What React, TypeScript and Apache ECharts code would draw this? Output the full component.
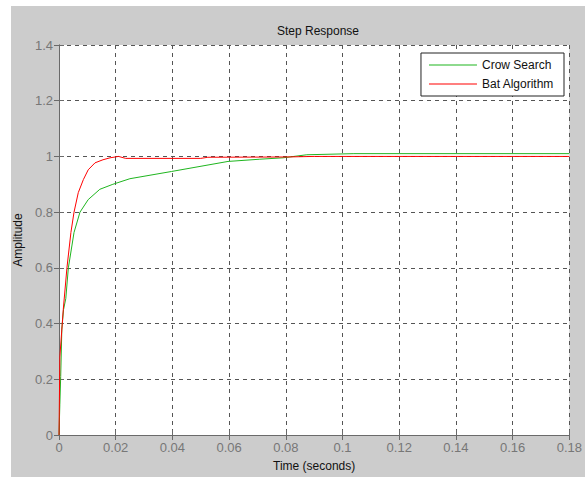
import React, { useEffect, useRef } from "react";
import * as echarts from "echarts";

const crowT = [0, 0.0003, 0.0006, 0.001, 0.0016, 0.0024, 0.0033, 0.0053, 0.0074, 0.0103, 0.0144, 0.019, 0.025, 0.0397, 0.0596, 0.0708, 0.079, 0.0874, 0.104, 0.18];
const crowV = [0, 0.11, 0.21, 0.38, 0.45, 0.49, 0.6, 0.727, 0.8, 0.845, 0.882, 0.9, 0.92, 0.946, 0.982, 0.99, 0.995, 1.006, 1.01, 1.01];
const batT = [0, 0.0003, 0.0015, 0.0028, 0.0042, 0.0053, 0.0068, 0.0086, 0.0103, 0.0127, 0.0155, 0.018, 0.021, 0.0235, 0.05, 0.0525, 0.08, 0.09, 0.18];
const batV = [0, 0.28, 0.45, 0.6, 0.727, 0.8, 0.87, 0.917, 0.952, 0.977, 0.988, 0.995, 1.0, 0.993, 0.993, 0.997, 0.998, 1.0, 1.0];

const seriesNames = ["Crow Search", "Bat Algorithm"];
const xTicks = { min: 0, max: 0.18, interval: 0.02 };
const yTicks = { min: 0, max: 1.4, interval: 0.2 };

const fmt = (v: number) => parseFloat(v.toFixed(2)).toString();

export default function App() {
  const ref = useRef<HTMLDivElement>(null);
  useEffect(() => {
    const chart = echarts.init(ref.current!, null, { renderer: "svg" });
    const font = "Arial, 'Liberation Sans', sans-serif";
    const axisLine = { show: true, lineStyle: { color: "#6a6a6a", width: 1 } };
    const split = { show: true, lineStyle: { color: "#555", type: [4, 4] as any, width: 1 } };
    chart.setOption({
      animation: false,
      backgroundColor: "transparent",
      graphic: [
        { type: "rect", left: 11, top: 6, shape: { width: 574, height: 471 }, style: { fill: "#cccccc" }, z: -10 },
      ],
      title: {
        text: "Step Response",
        left: 313,
        top: 20,
        textAlign: "center",
        textStyle: { fontFamily: font, fontSize: 12, fontWeight: "normal", color: "#111" },
      },
      legend: {
        orient: "vertical",
        right: 21,
        top: 53,
        data: seriesNames,
        backgroundColor: "#fff",
        borderColor: "#222",
        borderWidth: 1,
        padding: [6, 10, 6, 8],
        itemGap: 7,
        itemWidth: 48,
        itemHeight: 14,
        icon: "path://M0,7L48,7L48,8L0,8Z",
        textStyle: { fontFamily: font, fontSize: 12, color: "#111" },
      },
      grid: { left: 59, top: 45, right: 15, bottom: 41, backgroundColor: "#fff", show: true, borderWidth: 0 },
      xAxis: [
        {
          type: "value",
          ...xTicks,
          name: "Time (seconds)",
          nameLocation: "middle",
          nameGap: 25,
          nameTextStyle: { fontFamily: font, fontSize: 12, color: "#111" },
          axisLine,
          axisTick: { show: true, inside: true, length: 5, lineStyle: { color: "#6a6a6a" } },
          axisLabel: { formatter: fmt, fontFamily: font, fontSize: 13, color: "#777", margin: 6 },
          splitLine: split,
        },
        {
          type: "value",
          ...xTicks,
          position: "top",
          axisLine,
          axisTick: { show: true, inside: true, length: 5, lineStyle: { color: "#6a6a6a" } },
          axisLabel: { show: false },
          splitLine: { show: false },
        },
      ],
      yAxis: [
        {
          type: "value",
          ...yTicks,
          name: "Amplitude",
          nameLocation: "middle",
          nameGap: 35,
          nameRotate: 90,
          nameTextStyle: { fontFamily: font, fontSize: 12, color: "#111" },
          axisLine,
          axisTick: { show: true, inside: true, length: 5, lineStyle: { color: "#6a6a6a" } },
          axisLabel: { formatter: fmt, fontFamily: font, fontSize: 13, color: "#777", margin: 6 },
          splitLine: split,
        },
        {
          type: "value",
          ...yTicks,
          position: "right",
          axisLine,
          axisTick: { show: true, inside: true, length: 5, lineStyle: { color: "#6a6a6a" } },
          axisLabel: { show: false },
          splitLine: { show: false },
        },
      ],
      series: [
        {
          name: seriesNames[0],
          type: "line",
          data: crowT.map((t, i) => [t, crowV[i]]),
          showSymbol: false,
          symbol: "none",
          lineStyle: { color: "#1fb51f", width: 1 },
          itemStyle: { color: "#1fb51f" },
        },
        {
          name: seriesNames[1],
          type: "line",
          data: batT.map((t, i) => [t, batV[i]]),
          showSymbol: false,
          symbol: "none",
          lineStyle: { color: "#ff0000", width: 1 },
          itemStyle: { color: "#ff0000" },
        },
      ],
    });
    return () => chart.dispose();
  }, []);
  return <div ref={ref} style={{ width: 585, height: 477, position: "absolute", left: 0, top: 0 }} />;
}
